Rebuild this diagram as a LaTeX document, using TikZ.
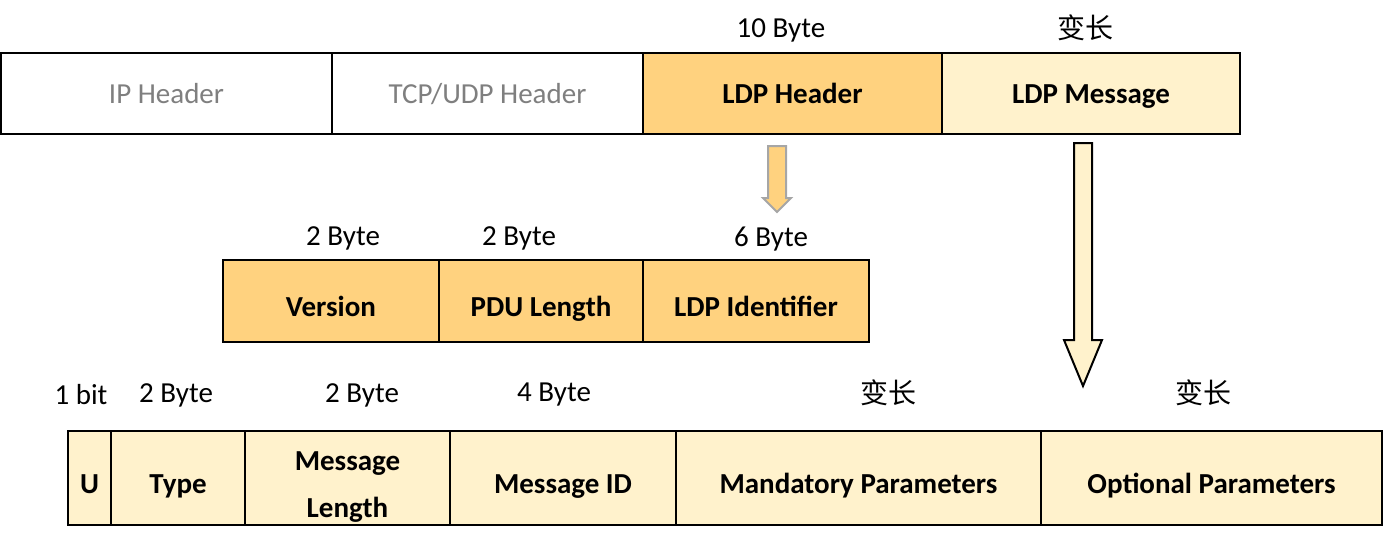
\documentclass[tikz,border=0pt]{standalone}
\usepackage{fontspec}
\setmainfont{Carlito}
\newfontfamily\cjk{Noto Sans CJK SC}
\definecolor{hdr}{HTML}{FFD27F}
\definecolor{msg}{HTML}{FFF2CC}
\definecolor{graytxt}{HTML}{7F7F7F}
\definecolor{arrgray}{HTML}{A6A6A6}
\tikzset{
  fld/.style={draw=black, line width=2.4pt, rectangle, inner sep=0pt, align=center,
    text depth=0pt, font=\fontsize{29}{47}\selectfont\bfseries},
  toprow/.style={text height=20pt, minimum height=81pt},
  midrow/.style={text height=31pt, minimum height=82pt},
  botrow/.style={text height=31pt, minimum height=94pt},
  plain/.style={fill=white, font=\fontsize{29}{35}\selectfont, text=graytxt},
  hd/.style={fill=hdr},
  ms/.style={fill=msg},
  lbl/.style={inner sep=0pt, font=\fontsize{29}{35}\selectfont},
  cn/.style={inner sep=0pt, font=\fontsize{28}{32}\cjk},
}
\begin{document}
\begin{tikzpicture}[x=1pt,y=-1pt]
\useasboundingbox (0,0) rectangle (1383,544);
% top row
\node[fld,toprow,plain,minimum width=331pt] (ip) at (166.5,93.5) {IP Header};
\node[fld,toprow,plain,minimum width=311pt] (tcp) at (487.5,93.5) {TCP/UDP Header};
\node[fld,toprow,hd,minimum width=299pt] (ldph) at (792.5,93.5) {LDP Header};
\node[fld,toprow,ms,minimum width=298pt] (ldpm) at (1091,93.5) {LDP Message};
\node[lbl] (l10) at (781,30) {10 Byte};
\node[cn] (lv1) at (1085,28) {变长};
% small arrow
\draw[draw=arrgray, line width=2pt, fill=hdr, line join=miter]
  (768,146) -- (786,146) -- (786,198) -- (791,198) -- (777,212) -- (763,198) -- (768,198) -- cycle;
% middle row
\node[fld,midrow,hd,minimum width=216pt] (ver) at (331,301) {Version};
\node[fld,midrow,hd,minimum width=204pt] (pdu) at (541,301) {PDU Length};
\node[fld,midrow,hd,minimum width=226pt] (lid) at (756,301) {LDP Identifier};
\node[lbl] (l2a) at (343,238) {2 Byte};
\node[lbl] (l2b) at (519,238) {2 Byte};
\node[lbl] (l6) at (771,239) {6 Byte};
% big arrow
\draw[draw=black, line width=2pt, fill=msg, line join=miter]
  (1074,143) -- (1092,143) -- (1092,340) -- (1102,340) -- (1083,386) -- (1064,340) -- (1074,340) -- cycle;
% bottom row
\node[fld,botrow,ms,minimum width=43pt] (u) at (89.5,478) {U};
\node[fld,botrow,ms,minimum width=134pt] (type) at (178,478) {Type};
\node[fld,botrow,ms,minimum width=205pt,text height=78pt] (mlen) at (347.5,478) {Message\\Length};
\node[fld,botrow,ms,minimum width=226pt] (mid) at (563,478) {Message ID};
\node[fld,botrow,ms,minimum width=365pt] (mand) at (858.5,478) {Mandatory Parameters};
\node[fld,botrow,ms,minimum width=341pt] (opt) at (1211.5,478) {Optional Parameters};
\node[lbl] (l1b) at (81,395) {1 bit};
\node[lbl] (l2c) at (176,395) {2 Byte};
\node[lbl] (l2d) at (362,395) {2 Byte};
\node[lbl] (l4) at (554,395) {4 Byte};
\node[cn] (lv2) at (888,393) {变长};
\node[cn] (lv3) at (1203,393) {变长};
\end{tikzpicture}
\end{document}
